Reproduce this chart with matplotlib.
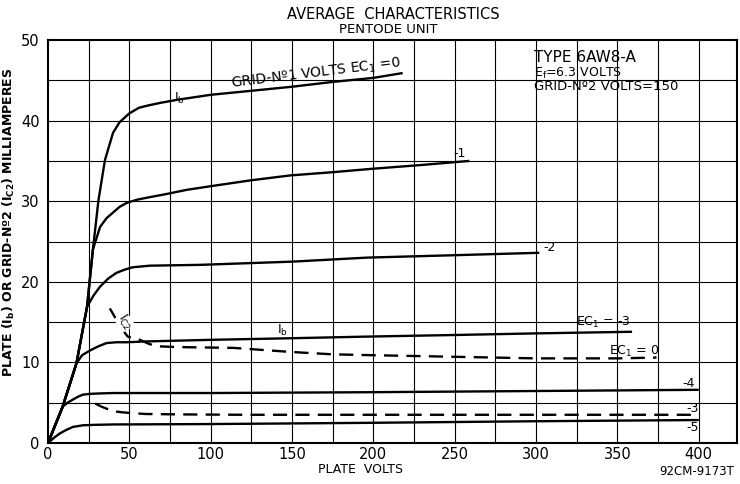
import matplotlib.pyplot as plt

# Plate current Ib curves (plate volts, milliamperes) for each grid-No.1 voltage
ec1_0_v = [0, 9, 17.5, 24, 27.6, 31, 35, 40, 44, 50, 56, 62, 69, 80, 100, 125, 150, 175, 200, 218]
ec1_0_ma = [0, 4.5, 9.9, 16.9, 24, 30.1, 35.1, 38.5, 39.8, 40.9, 41.6, 41.9, 42.2, 42.6, 43.2, 43.7, 44.2, 44.8, 45.3, 45.9]

ec1_m1_v = [0, 9, 17.5, 24, 27.6, 32, 36, 40, 44, 48.5, 55, 62.5, 73, 85, 98, 125, 149, 175, 198, 230, 259]
ec1_m1_ma = [0, 4.5, 9.9, 16.9, 24, 26.8, 27.9, 28.6, 29.3, 29.8, 30.2, 30.5, 30.9, 31.4, 31.8, 32.6, 33.2, 33.6, 34.0, 34.5, 35.0]

ec1_m2_v = [0, 9, 17.5, 24, 28, 32, 37, 42, 47, 52, 62.5, 93, 150, 196, 250, 302]
ec1_m2_ma = [0, 4.5, 9.9, 16.9, 18.3, 19.4, 20.4, 21.1, 21.5, 21.8, 22.0, 22.1, 22.5, 23.0, 23.3, 23.6]

ec1_m3_v = [0, 9, 17.5, 21, 26, 31, 36, 42, 48.5, 60, 100, 150, 196, 250, 300, 359]
ec1_m3_ma = [0, 4.5, 9.9, 10.9, 11.5, 12.0, 12.4, 12.5, 12.5, 12.6, 12.8, 13.0, 13.2, 13.4, 13.6, 13.8]

ec1_m4_v = [0, 9, 12, 15.4, 18.5, 21.5, 26, 32, 40, 52, 100, 196, 300, 400]
ec1_m4_ma = [0, 4.5, 5.0, 5.4, 5.75, 6.0, 6.1, 6.15, 6.2, 6.2, 6.2, 6.3, 6.45, 6.6]

ec1_m5_v = [0, 4, 7.4, 11, 15.4, 21.5, 28, 40, 100, 196, 300, 400]
ec1_m5_ma = [0, 0.7, 1.2, 1.6, 2.0, 2.2, 2.25, 2.3, 2.35, 2.5, 2.7, 2.85]

# Screen grid current Ic2 curves (dashed)
ic2_0_v = [38, 42, 46, 49, 53, 56.5, 62, 67, 80, 114, 149, 175, 198, 249, 300, 350, 374]
ic2_0_ma = [16.7, 15.3, 14.0, 13.2, 13.0, 12.8, 12.3, 12.0, 11.9, 11.8, 11.3, 11.0, 10.9, 10.7, 10.5, 10.5, 10.6]

ic2_m3_v = [29, 33, 38, 42, 46, 52, 60, 80, 120, 196, 300, 400]
ic2_m3_ma = [4.9, 4.5, 4.1, 3.9, 3.8, 3.7, 3.6, 3.55, 3.5, 3.5, 3.5, 3.5]

x_ticks = [0, 50, 100, 150, 200, 250, 300, 350, 400]
y_ticks = [0, 10, 20, 30, 40, 50]

plt.rcParams['font.family'] = 'DejaVu Sans'

fig = plt.figure(figsize=(7.4, 4.84), dpi=100)
ax = fig.add_axes([48 / 740, 1 - 443 / 484, 689 / 740, 403 / 484])

# Curves
curve_style = dict(color='black', linewidth=1.7, solid_capstyle='butt', solid_joinstyle='round')
ax.plot(ec1_0_v, ec1_0_ma, **curve_style)
ax.plot(ec1_m1_v, ec1_m1_ma, **curve_style)
ax.plot(ec1_m2_v, ec1_m2_ma, **curve_style)
ax.plot(ec1_m3_v, ec1_m3_ma, **curve_style)
ax.plot(ec1_m4_v, ec1_m4_ma, **curve_style)
ax.plot(ec1_m5_v, ec1_m5_ma, **curve_style)
ax.plot(ic2_0_v, ic2_0_ma, color='black', linewidth=1.7, dashes=(6, 3.5))
ax.plot(ic2_m3_v, ic2_m3_ma, color='black', linewidth=1.7, dashes=(6, 3.5))

# Grid every 25 volts and 5 mA
for v in range(25, 425, 25):
    ax.axvline(v, color='black', linewidth=0.8, zorder=0)
for ma in range(5, 50, 5):
    ax.axhline(ma, color='black', linewidth=0.8, zorder=0)

ax.set_xlim(0, 423.5)
ax.set_ylim(0, 50)
ax.set_xticks(x_ticks)
ax.set_yticks(y_ticks)
ax.tick_params(length=0, labelsize=10.5, pad=3)
ax.tick_params(axis='y', pad=6)
for s in ax.spines.values():
    s.set_linewidth(1.5)

# Curve labels
txt = dict(fontsize=9, color='black')
ax.text(81, 42.8, 'I$_{\\rm b}$', ha='center', va='center', **txt)
ax.text(165, 45.8, 'GRID-Nº1 VOLTS EC$_{\\rm 1}$ =0', ha='center', va='center', rotation=7, fontsize=10)
ax.text(253, 35.9, '-1', ha='center', va='center', **txt)
ax.text(308, 24.3, '-2', ha='center', va='center', **txt)
ax.text(144, 14.0, 'I$_{\\rm b}$', ha='center', va='center', **txt)
ax.text(47, 15.0, 'I$_{\\rm C2}$', ha='center', va='center', rotation=-58,
        bbox=dict(facecolor='white', edgecolor='none', pad=0), **txt)
ax.text(341, 15.0, 'EC$_{\\rm 1}$ = -3', ha='center', va='center', **txt)
ax.text(360, 11.3, 'EC$_{\\rm 1}$ = 0', ha='center', va='center', **txt)
ax.text(394, 7.4, '-4', ha='center', va='center', **txt)
ax.text(396, 4.3, '-3', ha='center', va='center', **txt)
ax.text(396, 1.9, '-5', ha='center', va='center', **txt)

# Tube info
ax.text(299, 47.8, 'TYPE 6AW8-A', ha='left', va='center', fontsize=11)
ax.text(299, 45.9, 'E$_{\\rm f}$=6.3 VOLTS', ha='left', va='center', fontsize=9)
ax.text(299, 44.2, 'GRID-Nº2 VOLTS=150', ha='left', va='center', fontsize=9.5)

# Titles and axis labels
fig.text(0.532, 0.970, 'AVERAGE  CHARACTERISTICS', ha='center', va='center', fontsize=10.5)
fig.text(0.525, 0.940, 'PENTODE UNIT', ha='center', va='center', fontsize=9.5)
ax.set_xlabel('PLATE  VOLTS', fontsize=9)
ax.xaxis.set_label_coords(0.453, -0.05)
ax.set_ylabel('PLATE (I$_{\\bf b}$) OR GRID-Nº2 (I$_{\\bf C2}$) MILLIAMPERES', fontsize=9, fontweight='bold')
ax.yaxis.set_label_coords(-0.045, 0.548)
fig.text(0.942, 0.012, '92CM-9173T', ha='center', va='bottom', fontsize=8.5)

plt.savefig('out.png', dpi=100)
